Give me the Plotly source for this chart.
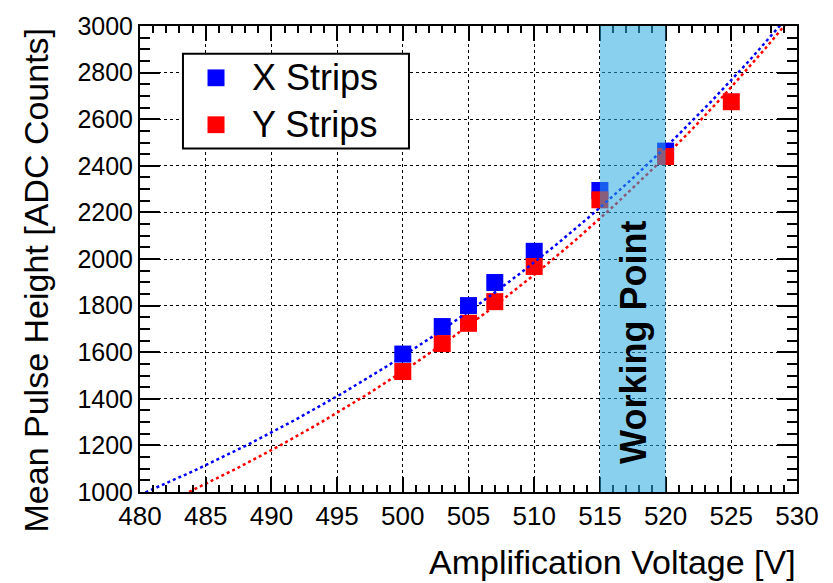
import numpy as np
import plotly.graph_objects as go

# Measured mean pulse heights
voltage_x = [500, 503, 505, 507, 510, 515, 520]
pulse_x = [1592, 1710, 1800, 1899, 2033, 2294, 2463]
voltage_y = [500, 503, 505, 507, 510, 515, 520, 525]
pulse_y = [1517, 1637, 1724, 1817, 1968, 2254, 2440, 2675]

# Exponential fit parameters: a + b * exp(c * (V - v0))
fit_x = dict(a=-186.0, b=1174.0, c=0.0205, v0=480.0)
fit_y = dict(a=-305.5, b=1209.7, c=0.0205, v0=480.0)

working_point = (515, 520)

FONT = "Liberation Sans"
BLUE = "rgb(0,0,255)"
RED = "rgb(255,0,0)"


def fit_curve(p, v):
    return p["a"] + p["b"] * np.exp(p["c"] * (v - p["v0"]))


v_fit = np.linspace(480, 530, 400)

fig = go.Figure()
fig.add_trace(go.Scatter(x=voltage_x, y=pulse_x, mode="markers", name="X Strips",
                         marker=dict(symbol="square", size=17, color=BLUE, line=dict(width=0)),
                         showlegend=False))
fig.add_trace(go.Scatter(x=voltage_y, y=pulse_y, mode="markers", name="Y Strips",
                         marker=dict(symbol="square", size=17, color=RED, line=dict(width=0)),
                         showlegend=False))
fig.add_trace(go.Scatter(x=v_fit, y=fit_curve(fit_x, v_fit), mode="lines",
                         line=dict(color=BLUE, width=2.5, dash="dot"), showlegend=False))
fig.add_trace(go.Scatter(x=v_fit, y=fit_curve(fit_y, v_fit), mode="lines",
                         line=dict(color=RED, width=2.5, dash="dot"), showlegend=False))

# Working point band
fig.add_shape(type="rect", xref="x", yref="paper", x0=working_point[0], x1=working_point[1],
              y0=0, y1=1, layer="above", line=dict(width=0),
              fillcolor="rgba(40,170,225,0.55)")
fig.add_annotation(x=sum(working_point) / 2, y=1643, xref="x", yref="y", text="Working Point",
                   textangle=-90, showarrow=False,
                   font=dict(family=FONT, size=36, color="black", weight="bold"))

# Legend box
fig.add_shape(type="rect", xref="paper", yref="paper", x0=0.0654, x1=0.4094, y0=0.7373, y1=0.9407,
              line=dict(color="black", width=2), fillcolor="white", layer="above")
for yc, col, label in [(0.8888, BLUE, "X Strips"), (0.7881, RED, "Y Strips")]:
    fig.add_shape(type="rect", xref="paper", yref="paper", x0=0.1157 - 0.01294, x1=0.1157 + 0.01294,
                  y0=yc - 0.01801, y1=yc + 0.01801, line=dict(width=0), fillcolor=col, layer="above")
    fig.add_annotation(x=0.1674, y=yc, xref="paper", yref="paper", text=label, showarrow=False,
                       xanchor="left", yanchor="middle", font=dict(family=FONT, size=36, color="black"))

# Axis titles, aligned to the far end of each axis
fig.add_annotation(x=1.0015, y=-0.150, xref="paper", yref="paper", text="Amplification Voltage [V]",
                   showarrow=False, xanchor="right", yanchor="middle",
                   font=dict(family=FONT, size=34, color="black"))
fig.add_annotation(x=-0.1598, y=1.0, xref="paper", yref="paper", text="Mean Pulse Height [ADC Counts]",
                   showarrow=False, textangle=-90, xanchor="center", yanchor="top",
                   font=dict(family=FONT, size=34, color="black"))

axis_common = dict(
    showline=True, linecolor="black", linewidth=2, mirror="allticks",
    ticks="inside", tickcolor="black", tickwidth=2,
    showgrid=True, gridcolor="black", gridwidth=1, griddash="dot",
    zeroline=False,
)

fig.update_xaxes(range=[480, 530], dtick=5, tick0=480, ticklen=15,
                 tickfont=dict(family=FONT, size=26, color="black"),
                 minor=dict(dtick=1, ticks="inside", ticklen=7, tickcolor="black", tickwidth=2, showgrid=False),
                 **axis_common)
fig.update_yaxes(range=[1000, 3000], dtick=200, tick0=1000, ticklen=20,
                 tickfont=dict(family=FONT, size=25, color="black"),
                 minor=dict(dtick=50, ticks="inside", ticklen=10, tickcolor="black", tickwidth=2, showgrid=False),
                 **axis_common)

fig.update_layout(
    width=833, height=583,
    margin=dict(l=140, r=36, t=20, b=91),
    paper_bgcolor="white", plot_bgcolor="white",
    font=dict(family=FONT, color="black"),
    showlegend=False,
)

fig.write_html("out.html")
